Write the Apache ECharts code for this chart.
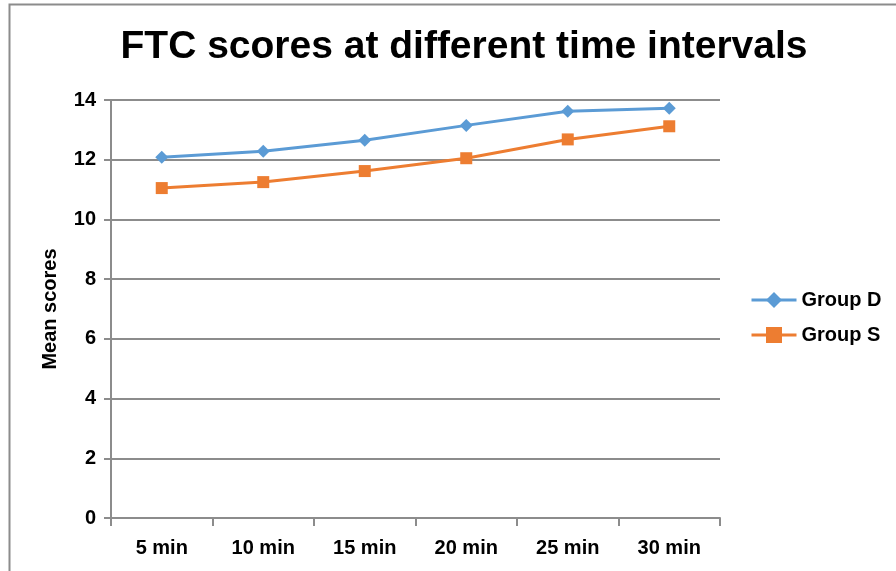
<!DOCTYPE html>
<html>
<head>
<meta charset="utf-8">
<script src="https://cdn.jsdelivr.net/npm/echarts@6/dist/echarts.min.js"></script>
<style>
  html, body { margin: 0; padding: 0; background: #fff; }
  #chart { width: 896px; height: 571px; }
</style>
</head>
<body>
<div id="chart"></div>
<script>
const categories = ['5 min', '10 min', '15 min', '20 min', '25 min', '30 min'];
const groupD = [12.08, 12.28, 12.65, 13.15, 13.62, 13.72];
const groupS = [11.05, 11.25, 11.62, 12.05, 12.68, 13.12];

const chart = echarts.init(document.getElementById('chart'), null, { renderer: 'canvas' });

const font = 'Liberation Sans, Arial, sans-serif';
const axisGrey = '#8c8c8c';

chart.setOption({
  animation: false,
  textStyle: { fontFamily: font },
  graphic: [{
    type: 'rect',
    shape: { x: 9.5, y: 4.5, width: 900, height: 600 },
    style: { fill: 'none', stroke: '#8c8c8c', lineWidth: 2 },
    silent: true
  }],
  title: {
    text: 'FTC scores at different time intervals',
    left: 459,
    textAlign: 'center',
    top: 23,
    textStyle: { fontSize: 39, fontWeight: 'bold', color: '#000', fontFamily: font }
  },
  grid: { left: 111, right: 176, top: 100, bottom: 53 },
  legend: {
    orient: 'vertical',
    left: 745,
    top: 285,
    itemWidth: 45,
    itemHeight: 20,
    itemGap: 15,
    lineStyle: { width: 3 },
    textStyle: { fontSize: 20, fontWeight: 'bold', color: '#000', fontFamily: font },
    data: ['Group D', 'Group S']
  },
  xAxis: {
    type: 'category',
    data: categories,
    boundaryGap: true,
    axisLine: { lineStyle: { color: axisGrey, width: 2 } },
    axisTick: { show: true, length: 8, alignWithLabel: false, lineStyle: { color: axisGrey, width: 2 } },
    axisLabel: { fontSize: 20, fontWeight: 'bold', color: '#000', margin: 20, fontFamily: font }
  },
  yAxis: {
    type: 'value',
    min: 0,
    max: 14,
    interval: 2,
    name: 'Mean scores',
    nameLocation: 'middle',
    nameGap: 51,
    nameTextStyle: { fontSize: 20, fontWeight: 'bold', color: '#000', fontFamily: font },
    axisLine: { show: true, lineStyle: { color: axisGrey, width: 2 } },
    axisTick: { show: true, length: 7, lineStyle: { color: axisGrey, width: 2 } },
    axisLabel: { fontSize: 20, fontWeight: 'bold', color: '#000', margin: 15, fontFamily: font },
    splitLine: { show: true, lineStyle: { color: axisGrey, width: 2 } }
  },
  series: [
    {
      name: 'Group D',
      type: 'line',
      data: groupD,
      symbol: 'diamond',
      symbolSize: 13,
      lineStyle: { color: '#5b9bd5', width: 3 },
      itemStyle: { color: '#5b9bd5' }
    },
    {
      name: 'Group S',
      type: 'line',
      data: groupS,
      symbol: 'rect',
      symbolSize: 12,
      lineStyle: { color: '#ed7d31', width: 3 },
      itemStyle: { color: '#ed7d31' }
    }
  ]
});
</script>
</body>
</html>
